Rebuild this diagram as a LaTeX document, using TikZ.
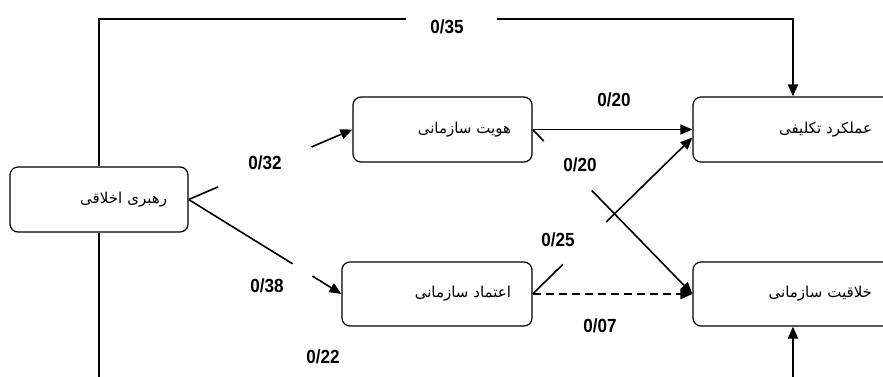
\documentclass[tikz,border=0pt]{standalone}
\usepackage{fontspec}
\setmainfont{Liberation Sans}
\newfontfamily\numfont[FakeStretch=0.9]{Liberation Sans}
\newfontfamily\fa[Script=Arabic]{DejaVu Sans}
\TeXXeTstate=1
\usetikzlibrary{arrows.meta,calc}
\begin{document}
\begin{tikzpicture}[x=1pt,y=-1pt,
 box/.style={draw, line width=1.2pt, rounded corners=8pt, fill=white, minimum height=65pt, align=right, inner xsep=21pt, inner ysep=0pt, font=\fa\fontsize{15}{18}\selectfont},
 conn/.style={line width=1.6pt},
 tip/.style={-{Triangle[length=12pt,width=10pt]}},
 lbl/.style={font=\numfont\bfseries\fontsize{19}{22}\selectfont, inner sep=0pt}]
\useasboundingbox (0,0) rectangle (883,376);
\clip (0,0) rectangle (883,376);
\node[box, text width=136pt] (rah) at (99,199.5) {\beginR رهبری اخلاقی\endR};
\node[box, text width=137pt] (hov) at (442.5,129.5) {\beginR هویت سازمانی\endR};
\node[box, text width=148pt, minimum height=64pt] (etm) at (437,294) {\beginR اعتماد سازمانی\endR};
\node[box, text width=158pt] (aml) at (793,129.5) {\beginR عملکرد تکلیفی\endR};
\node[box, text width=158pt, minimum height=64pt] (khl) at (793,294) {\beginR خلاقیت سازمانی\endR};
\coordinate (tl) at (99,19);
\coordinate (tr) at (793,19);
\coordinate (bl) at (99,395);
\coordinate (br) at (793,395);
% top loop
\draw[conn, line width=2pt] (rah.north) -- (tl) -- ($(tl)!0.442!(tr)$);
\draw[conn, line width=2pt, tip] ($(tl)!0.573!(tr)$) -- (tr) -- (aml.north);
% bottom loop
\draw[conn, line width=2pt, tip] (rah.south) -- (bl) -- (br) -- (khl.south);
% rah -> hov
\draw[conn] (rah.east) -- ($(rah.east)!0.18!(hov.west)$);
\draw[conn, tip] ($(rah.east)!0.75!(hov.west)$) -- (hov.west);
% rah -> etm
\draw[conn] (rah.east) -- ($(rah.east)!0.68!(etm.west)$);
\draw[conn, tip] ($(rah.east)!0.81!(etm.west)$) -- (etm.west);
% hov -> aml
\draw[line width=1.1pt, tip] (hov.east) -- (aml.west);
% hov -> khl
\draw[conn] (hov.east) -- ($(hov.east)!0.07!(khl.west)$);
\draw[conn, tip] ($(hov.east)!0.37!(khl.west)$) -- (khl.west);
% etm -> aml
\coordinate (amlin) at ([yshift=-8pt]aml.west);
\draw[conn] (etm.east) -- ($(etm.east)!0.19!(amlin)$);
\draw[conn, tip] ($(etm.east)!0.46!(amlin)$) -- (amlin);
% etm -> khl dashed
\draw[conn, dash pattern=on 8pt off 5pt, tip] (etm.east) -- (khl.west);
% labels
\node[lbl] (l35) at (447,27) {0/35};
\node[lbl] (l32) at (265,163) {0/32};
\node[lbl] (l38) at (267,286) {0/38};
\node[lbl] (l20a) at (614,100) {0/20};
\node[lbl] (l20b) at (580,165) {0/20};
\node[lbl] (l25) at (558,240) {0/25};
\node[lbl] (l07) at (600,326) {0/07};
\node[lbl] (l22) at (323,357) {0/22};
\end{tikzpicture}
\end{document}
